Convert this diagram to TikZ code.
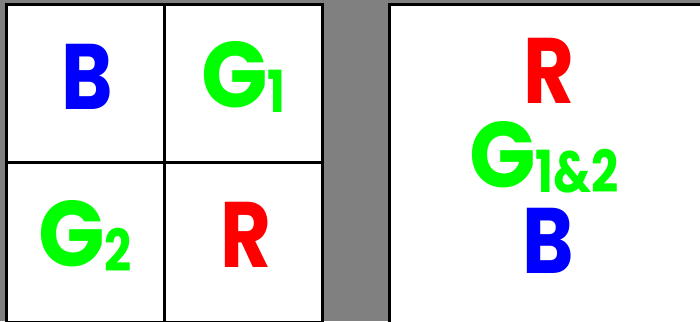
\documentclass[tikz,border=0pt]{standalone}
\usepackage{fontspec}
\setmainfont{Poppins}
\usepackage{graphicx}
\usepackage{xcolor}
\usetikzlibrary{math}
\definecolor{pixred}{RGB}{255,0,0}
\definecolor{pixgreen}{RGB}{0,255,0}
\definecolor{pixblue}{RGB}{0,0,255}
\definecolor{bggray}{RGB}{128,128,128}
\newcommand{\narrow}[2][0.84]{\scalebox{#1}[1]{#2}}
\newcommand{\chan}[2]{\narrow[0.94]{#1}{\fontsize{58}{58}\selectfont\raisebox{-5pt}{\narrow[0.82]{#2}}}}

\begin{document}
\begin{tikzpicture}[x=1pt,y=-1pt,
  frame/.style={draw=black,line width=3pt,fill=white},
  letter/.style={inner sep=0pt,font=\fontsize{93}{93}\selectfont\bfseries}]
\tikzmath{
\xa=6.7;
\xb=164;
\xc=322.7;
\ya=4.7;
\yb=162.3;
\yc=322;
\xr=389.3;
}
\useasboundingbox (0,0) rectangle (700,321);
\fill[bggray] (0,0) rectangle (700,321);

%The bayer grid:
\coordinate (NW) at (\xa,\ya);
\coordinate (SE) at (\xc,\yc);
\draw[frame] (NW) rectangle (SE);
\draw[line width=3pt] (\xb,\ya) -- (\xb,\yc);
\draw[line width=3pt] (\xa,\yb) -- (\xc,\yb);

%The merged pixel:
\draw[frame] (\xr,4.3) rectangle (705,326);

\node[letter,text=pixblue] (b) at (87,76.5) {\narrow{B}};
\node[letter,text=pixgreen,anchor=base west] (g1) at (201,107) {\chan{G}{1}};
\node[letter,text=pixgreen,anchor=base west] (g2) at (38,266) {\chan{G}{2}};
\node[letter,text=pixred] (r) at (245.5,235) {\narrow{R}};

\node[letter,text=pixred] (rm) at (548.7,71) {\narrow{R}};
\node[letter,text=pixgreen,anchor=base west] (gm) at (469,187) {\chan{G}{1\&2}};
\node[letter,text=pixblue] (bm) at (548,240.5) {\narrow{B}};
\end{tikzpicture}
\end{document}
